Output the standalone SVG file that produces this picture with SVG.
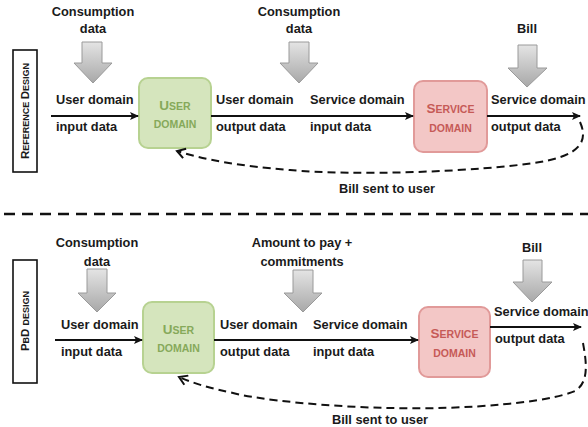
<svg xmlns="http://www.w3.org/2000/svg" width="588" height="427" viewBox="0 0 588 427">
<style>
.t{font-family:"Liberation Sans",Arial,sans-serif;font-weight:bold;font-size:12.8px;fill:#1a1a1a}
.c{text-anchor:middle}
.gn{font-family:"Liberation Sans",Arial,sans-serif;font-weight:bold;fill:#86a95a;text-anchor:middle}
.rd{font-family:"Liberation Sans",Arial,sans-serif;font-weight:bold;fill:#c65a57;text-anchor:middle}
.lab{font-family:"Liberation Sans",Arial,sans-serif;font-weight:bold;fill:#1a1a1a;text-anchor:middle}
.flow{stroke:#111;stroke-width:2;fill:none;marker-end:url(#ah)}
.ret{stroke:#111;stroke-width:2;fill:none;stroke-dasharray:8 5;marker-end:url(#oh)}
.garrow{fill:url(#gg);stroke:#9a9a9a;stroke-width:1}
.ubox{fill:#d5e5bd;stroke:#b7d291;stroke-width:2}
.sbox{fill:#f3c7c6;stroke:#e19a99;stroke-width:2}
.side{fill:#fff;stroke:#111;stroke-width:1.6}
</style>
<defs>
<linearGradient id="gg" x1="0" y1="0" x2="0" y2="1">
<stop offset="0" stop-color="#e4e4e4"/>
<stop offset="1" stop-color="#a8a8a8"/>
</linearGradient>
<marker id="ah" markerWidth="10" markerHeight="10" refX="8" refY="5" orient="auto" markerUnits="userSpaceOnUse">
<path d="M0,1 L9,5 L0,9 L2,5 Z" fill="#111"/>
</marker>
<marker id="oh" markerWidth="12" markerHeight="12" refX="10" refY="6" orient="auto" markerUnits="userSpaceOnUse">
<path d="M2,1 L10,6 L2,11" fill="none" stroke="#111" stroke-width="2"/>
</marker>
</defs>
<rect width="588" height="427" fill="#ffffff"/>

<!-- separator -->
<line x1="4" y1="214" x2="588" y2="214" stroke="#111" stroke-width="2.5" stroke-dasharray="11 7"/>

<!-- ===== Reference design ===== -->
<g id="ref-label">
<rect class="side" x="13" y="50" width="24" height="122"/>
<text class="lab" transform="translate(29,111) rotate(-90)"><tspan font-size="11.5">R</tspan><tspan font-size="9">EFERENCE </tspan><tspan font-size="11.5">D</tspan><tspan font-size="9">ESIGN</tspan></text>
</g>

<g id="ref-consumption1">
<text class="t c" x="93" y="16">Consumption</text>
<text class="t c" x="93" y="33">data</text>
<path class="garrow" d="M82,42 L102,42 L102,63 L112,63 L93,83 L74,63 L82,63 Z"/>
</g>

<g id="ref-user-domain">
<rect class="ubox" x="139" y="78" width="72" height="70" rx="9"/>
<text class="gn" x="175" y="110"><tspan font-size="13.5">U</tspan><tspan font-size="10.5">SER</tspan></text>
<text class="gn" x="175" y="128" font-size="10.5">DOMAIN</text>
</g>

<g id="ref-consumption2">
<text class="t c" x="299" y="16">Consumption</text>
<text class="t c" x="299" y="33">data</text>
<path class="garrow" d="M289,42 L309,42 L309,63 L318,63 L299,83 L280,63 L289,63 Z"/>
</g>

<g id="ref-service-domain">
<rect class="sbox" x="414" y="81" width="73" height="71" rx="9"/>
<text class="rd" x="450.5" y="113"><tspan font-size="13.5">S</tspan><tspan font-size="10.5">ERVICE</tspan></text>
<text class="rd" x="450.5" y="132" font-size="10.5">DOMAIN</text>
</g>

<g id="ref-bill">
<text class="t c" x="527" y="33">Bill</text>
<path class="garrow" d="M518,45 L537,45 L537,68 L547,68 L527,87 L508,68 L518,68 Z"/>
</g>

<g id="ref-connectors">
<path class="flow" d="M51,116 L138,116"/>
<path class="flow" d="M211,116 L413,116"/>
<path class="flow" d="M487,116 L580,116"/>
<path class="ret" d="M580,122 C588,140 582,155 540,162 C480,172 350,176 290,170 C240,166 205,160 177,151"/>
</g>
<g id="ref-labels">
<text class="t" x="56" y="104">User domain</text>
<text class="t" x="56" y="131">input data</text>
<text class="t" x="216" y="104">User domain</text>
<text class="t" x="216" y="131">output data</text>
<text class="t" x="310" y="104">Service domain</text>
<text class="t" x="310" y="131">input data</text>
<text class="t" x="491" y="104">Service domain</text>
<text class="t" x="491" y="131">output data</text>
<text class="t c" x="387" y="193">Bill sent to user</text>
</g>

<!-- ===== PbD design ===== -->
<g id="pbd-label">
<rect class="side" x="13" y="260" width="24" height="123"/>
<text class="lab" transform="translate(29,321) rotate(-90)"><tspan font-size="11.5">P</tspan><tspan font-size="9">B</tspan><tspan font-size="11.5">D </tspan><tspan font-size="9">DESIGN</tspan></text>
</g>

<g id="pbd-consumption">
<text class="t c" x="97" y="247">Consumption</text>
<text class="t c" x="97" y="266">data</text>
<path class="garrow" d="M87,269 L107,269 L107,293 L116,293 L97,312 L78,293 L87,293 Z"/>
</g>

<g id="pbd-user-domain">
<rect class="ubox" x="143" y="302" width="71" height="71" rx="9"/>
<text class="gn" x="178.5" y="334"><tspan font-size="13.5">U</tspan><tspan font-size="10.5">SER</tspan></text>
<text class="gn" x="178.5" y="352" font-size="10.5">DOMAIN</text>
</g>

<g id="pbd-amount">
<text class="t c" x="302" y="247">Amount to pay +</text>
<text class="t c" x="302" y="266">commitments</text>
<path class="garrow" d="M293,270 L313,270 L313,293 L322,293 L303,312 L284,293 L293,293 Z"/>
</g>

<g id="pbd-service-domain">
<rect class="sbox" x="419" y="307" width="71" height="70" rx="9"/>
<text class="rd" x="454.5" y="338"><tspan font-size="13.5">S</tspan><tspan font-size="10.5">ERVICE</tspan></text>
<text class="rd" x="454.5" y="357" font-size="10.5">DOMAIN</text>
</g>

<g id="pbd-bill">
<text class="t c" x="532" y="252">Bill</text>
<path class="garrow" d="M523,260 L542,260 L542,282 L552,282 L532,302 L513,282 L523,282 Z"/>
</g>

<g id="pbd-connectors">
<path class="flow" d="M55,340 L142,340"/>
<path class="flow" d="M214,340 L418,340"/>
<path class="flow" d="M490,327 L581,327"/>
<path class="ret" d="M583,343 C586,360 590,382 575,391 C550,402 470,410 390,408 C330,407 260,400 233,393 C210,388 195,384 179,377"/>
</g>
<g id="pbd-labels">
<text class="t" x="61" y="329">User domain</text>
<text class="t" x="61" y="356">input data</text>
<text class="t" x="220" y="329">User domain</text>
<text class="t" x="220" y="356">output data</text>
<text class="t" x="313" y="329">Service domain</text>
<text class="t" x="313" y="356">input data</text>
<text class="t" x="494" y="316" font-size="12.4">Service domain</text>
<text class="t" x="495" y="343">output data</text>
<text class="t c" x="380" y="424">Bill sent to user</text>
</g>
</svg>
